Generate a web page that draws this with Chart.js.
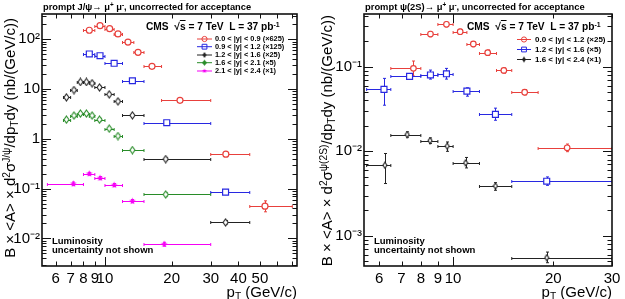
<!DOCTYPE html>
<html><head><meta charset="utf-8">
<script src="https://cdn.jsdelivr.net/npm/chart.js@4.4.0/dist/chart.umd.min.js"></script>
<style>
html,body{margin:0;padding:0;background:#fff;}
#wrap{position:relative;width:625px;height:299px;overflow:hidden;font-family:'Liberation Sans',Arial,Helvetica,sans-serif;color:#000;}
canvas{position:absolute;top:0;}
.t{position:absolute;white-space:nowrap;}
.b{font-weight:bold;}
sup,sub{font-size:68%;line-height:0;}
sup{vertical-align:0.45em;}
sub{vertical-align:-0.25em;}
.rot{transform:rotate(-90deg);transform-origin:0 0;text-align:right;width:270px;}
.ov{text-decoration:overline;}
</style></head>
<body><div id="wrap">
<canvas id="c1" width="312" height="299" style="left:0;width:312px;height:299px"></canvas>
<canvas id="c2" width="313" height="299" style="left:312px;width:313px;height:299px"></canvas>

<div class="t b" style="left:43px;top:0px;font-size:9.3px;line-height:14px">prompt J/ψ→ μ<sup>+</sup> μ<sup>-</sup>, uncorrected for acceptance</div>
<div class="t b" style="left:146px;top:20px;font-size:10.2px;line-height:14px">CMS &nbsp;√<span class="ov">s</span> = 7 TeV &nbsp;L = 37 pb<sup>-1</sup></div>
<div class="t b" style="left:215px;top:35px;font-size:7.4px;line-height:8px">0.0 &lt; |y| &lt; 0.9 (×625)</div>
<div class="t b" style="left:215px;top:42.7px;font-size:7.4px;line-height:8px">0.9 &lt; |y| &lt; 1.2 (×125)</div>
<div class="t b" style="left:215px;top:51px;font-size:7.4px;line-height:8px">1.2 &lt; |y| &lt; 1.6 (×25)</div>
<div class="t b" style="left:215px;top:58.7px;font-size:7.4px;line-height:8px">1.6 &lt; |y| &lt; 2.1 (×5)</div>
<div class="t b" style="left:215px;top:67px;font-size:7.4px;line-height:8px">2.1 &lt; |y| &lt; 2.4 (×1)</div>
<div class="t b" style="left:52px;top:235.5px;font-size:9.5px;line-height:10px">Luminosity</div>
<div class="t b" style="left:52px;top:245px;font-size:9.5px;line-height:10px">uncertainty not shown</div>
<div class="t rot" style="left:0px;top:288px;font-size:15px;line-height:19px">B × &lt;A&gt; × d<sup>2</sup>σ<sup>J/ψ</sup>/dp<sub>T</sub>dy (nb/(GeV/c))</div>
<div class="t" style="left:137px;top:283px;width:160px;text-align:right;font-size:15px;line-height:17px">p<sub>T</sub> (GeV/c)</div>

<div class="t b" style="left:365px;top:0px;font-size:9.4px;line-height:14px">prompt ψ(2S)→ μ<sup>+</sup> μ<sup>-</sup>, uncorrected for acceptance</div>
<div class="t b" style="left:467px;top:20px;font-size:10.2px;line-height:14px">CMS &nbsp;√<span class="ov">s</span> = 7 TeV &nbsp;L = 37 pb<sup>-1</sup></div>
<div class="t b" style="left:535px;top:35px;font-size:8px;line-height:9px">0.0 &lt; |y| &lt; 1.2 (×25)</div>
<div class="t b" style="left:535px;top:45px;font-size:8px;line-height:9px">1.2 &lt; |y| &lt; 1.6 (×5)</div>
<div class="t b" style="left:535px;top:55px;font-size:8px;line-height:9px">1.6 &lt; |y| &lt; 2.4 (×1)</div>
<div class="t b" style="left:374px;top:235.5px;font-size:9.5px;line-height:10px">Luminosity</div>
<div class="t b" style="left:374px;top:245px;font-size:9.5px;line-height:10px">uncertainty not shown</div>
<div class="t rot" style="left:317px;top:285px;font-size:15px;line-height:19px">B × &lt;A&gt; × d<sup>2</sup>σ<sup>ψ(2S)</sup>/dp<sub>T</sub>dy (nb/(GeV/c))</div>
<div class="t" style="left:452px;top:283px;width:160px;text-align:right;font-size:15px;line-height:17px">p<sub>T</sub> (GeV/c)</div>
</div>
<script>
// ---------------- Left panel: prompt J/psi ----------------
const jpsiXTicks = [6, 7, 8, 9, 10, 20, 30, 40, 50];
const jpsiYTicks = [0.01, 0.1, 1, 10, 100];
const jpsiYLabels = ['10⁻²', '10⁻¹', '1', '10', '10²'];

// 0.0<|y|<0.9 (x625)
const jA_pt   = [8.5, 9.5, 10.5, 11.45, 12.7, 14.1, 16.3, 21.8, 35.1, 52.7];
const jA_ptLo = [8, 9, 10, 11, 12, 13.5, 15, 18, 30, 45];
const jA_ptHi = [9, 10, 11, 12, 13.5, 15, 18, 30, 45, 70];
const jA_val  = [152, 188, 163, 128, 88, 54.8, 28.6, 5.94, 0.494, 0.0445];
const jA_lo   = [142, 176, 153, 120, 82.5, 51.2, 26.7, 5.5, 0.45, 0.0343];
const jA_hi   = [162, 200, 173, 136, 93.5, 58.4, 30.5, 6.4, 0.54, 0.057];
// 0.9<|y|<1.2 (x125)
const jB_pt   = [8.5, 9.5, 11.0, 13.3, 19.0, 35.0];
const jB_ptLo = [8, 9, 10, 12, 15, 30];
const jB_ptHi = [9, 10, 12, 15, 30, 45];
const jB_val  = [50.7, 46.8, 33.0, 14.7, 2.11, 0.0853];
const jB_lo   = [47.5, 43.8, 31.0, 13.8, 1.97, 0.076];
const jB_hi   = [54, 49.8, 35.0, 15.6, 2.25, 0.095];
// 1.2<|y|<1.6 (x25)
const jC_pt   = [6.7, 7.25, 7.75, 8.25, 8.75, 9.45, 10.45, 11.45, 13.3, 18.8, 35.0];
const jC_ptLo = [6.5, 7, 7.5, 8, 8.5, 9, 10, 11, 12, 15, 30];
const jC_ptHi = [7, 7.5, 8, 8.5, 9, 10, 11, 12, 15, 30, 45];
const jC_val  = [6.82, 9.57, 13.9, 13.9, 13.1, 10.8, 7.83, 5.68, 2.97, 0.393, 0.021];
const jC_lo   = [6.4, 9.0, 13.1, 13.1, 12.3, 10.2, 7.4, 5.35, 2.8, 0.37, 0.0195];
const jC_hi   = [7.25, 10.2, 14.7, 14.7, 13.9, 11.4, 8.3, 6.0, 3.15, 0.417, 0.0228];
// 1.6<|y|<2.1 (x5)
const jD_pt   = [6.7, 7.25, 7.75, 8.25, 8.75, 9.45, 10.45, 11.45, 13.3, 18.8];
const jD_ptLo = [6.5, 7, 7.5, 8, 8.5, 9, 10, 11, 12, 15];
const jD_ptHi = [7, 7.5, 8, 8.5, 9, 10, 11, 12, 15, 30];
const jD_val  = [2.44, 2.94, 3.23, 3.23, 2.94, 2.44, 1.61, 1.14, 0.596, 0.0766];
const jD_lo   = [2.29, 2.76, 3.04, 3.04, 2.76, 2.29, 1.51, 1.07, 0.56, 0.071];
const jD_hi   = [2.59, 3.12, 3.42, 3.42, 3.12, 2.59, 1.71, 1.21, 0.632, 0.0822];
// 2.1<|y|<2.4 (x1)
const jE_pt   = [7.2, 8.5, 9.5, 11.0, 13.3, 18.5];
const jE_ptLo = [5.5, 8, 9, 10, 12, 15];
const jE_ptHi = [8, 9, 10, 12, 15, 30];
const jE_val  = [0.125, 0.199, 0.163, 0.118, 0.0561, 0.00766];
const jE_lo   = [0.115, 0.186, 0.152, 0.110, 0.0520, 0.0070];
const jE_hi   = [0.136, 0.213, 0.175, 0.127, 0.0605, 0.0084];

// ---------------- Right panel: prompt psi(2S) ----------------
const psiXTicks = [6, 7, 8, 9, 10, 20, 30];
const psiYTicks = [0.001, 0.01, 0.1];
const psiYLabels = ['10⁻³', '10⁻²', '10⁻¹'];

// 0.0<|y|<1.2 (x25)
const pA_pt   = [7.6, 8.55, 9.55, 10.5, 11.5, 12.7, 14.2, 16.4, 22.0];
const pA_ptLo = [6.5, 8, 9, 10, 11, 12, 13.5, 15, 18];
const pA_ptHi = [8, 9, 10, 11, 12, 13.5, 15, 18, 30];
const pA_val  = [0.0958, 0.244, 0.318, 0.26, 0.186, 0.147, 0.0906, 0.050, 0.011];
const pA_lo   = [0.0776, 0.227, 0.297, 0.243, 0.173, 0.137, 0.084, 0.0465, 0.0099];
const pA_hi   = [0.117, 0.262, 0.340, 0.278, 0.199, 0.158, 0.097, 0.0536, 0.0122];
// 1.2<|y|<1.6 (x5)
const pB_pt   = [6.2, 7.4, 8.55, 9.55, 11.0, 13.4, 19.1];
const pB_ptLo = [5.5, 6.5, 8, 9, 10, 12, 15];
const pB_ptHi = [6.5, 8, 9, 10, 12, 15, 30];
const pB_val  = [0.054, 0.077, 0.080, 0.0826, 0.0515, 0.0273, 0.00443];
const pB_lo   = [0.0351, 0.072, 0.0715, 0.0715, 0.0449, 0.0233, 0.00396];
const pB_hi   = [0.0729, 0.083, 0.0914, 0.0957, 0.0564, 0.0324, 0.00498];
// 1.6<|y|<2.4 (x1)
const pC_pt   = [6.24, 7.28, 8.53, 9.6, 10.9, 13.4, 19.1];
const pC_ptLo = [5.5, 6.5, 8, 9, 10, 12, 15];
const pC_ptHi = [6.5, 8, 9, 10, 12, 15, 30];
const pC_val  = [0.00684, 0.0158, 0.0134, 0.0115, 0.0073, 0.00389, 0.000552];
const pC_lo   = [0.00416, 0.0147, 0.0124, 0.0100, 0.00636, 0.00346, 0.000481];
const pC_hi   = [0.00942, 0.0170, 0.0144, 0.0129, 0.00846, 0.00426, 0.000643];

// ---------------- styles ----------------
const RED = 'rgb(232,64,60)', BLUE = 'rgb(40,40,225)', BLACK = '#222', GREEN = 'rgb(40,140,40)', MAG = 'rgb(245,0,245)';

function diamond(color, w, h, filled) {
  const c = document.createElement('canvas');
  c.width = w + 2; c.height = h + 2;
  const g = c.getContext('2d');
  g.beginPath();
  g.moveTo(c.width / 2, 1); g.lineTo(c.width - 1, c.height / 2);
  g.lineTo(c.width / 2, c.height - 1); g.lineTo(1, c.height / 2); g.closePath();
  if (filled) { g.fillStyle = color; g.fill(); }
  else { g.fillStyle = '#fff'; g.fill(); g.strokeStyle = color; g.lineWidth = 1.1; g.stroke(); }
  return c;
}
function star(color, R, r) {
  const s = Math.ceil(R * 2) + 2;
  const c = document.createElement('canvas');
  c.width = s; c.height = s;
  const g = c.getContext('2d');
  g.beginPath();
  for (let k = 0; k < 10; k++) {
    const rad = k % 2 ? r : R;
    const a = -Math.PI / 2 + k * Math.PI / 5;
    const px = s / 2 + rad * Math.cos(a), py = s / 2 + rad * Math.sin(a);
    k ? g.lineTo(px, py) : g.moveTo(px, py);
  }
  g.closePath(); g.fillStyle = color; g.fill();
  return c;
}

function pts(pt, lo, hi, val, vlo, vhi) {
  return pt.map((x, i) => ({ x: x, y: val[i], xlo: lo[i], xhi: hi[i], ylo: vlo[i], yhi: vhi[i] }));
}
function ds(data, color, style, radius) {
  return { data, borderColor: color, backgroundColor: '#fff', pointStyle: style, pointRadius: radius,
           pointBorderWidth: 1.2, showLine: false };
}

const errorBars = {
  id: 'errorBars',
  beforeDatasetsDraw(chart) {
    const { ctx, chartArea: a, scales: { x, y } } = chart;
    ctx.save();
    ctx.beginPath(); ctx.rect(a.left, a.top, a.width, a.height); ctx.clip();
    chart.data.datasets.forEach(d => {
      ctx.strokeStyle = d.borderColor; ctx.lineWidth = 1;
      d.data.forEach(p => {
        const px = Math.round(x.getPixelForValue(p.x)) + 0.5;
        const py = Math.round(y.getPixelForValue(p.y)) + 0.5;
        const x1 = x.getPixelForValue(p.xlo), x2 = x.getPixelForValue(p.xhi);
        const y1 = y.getPixelForValue(p.ylo), y2 = y.getPixelForValue(p.yhi);
        const c = 1.5;
        ctx.beginPath();
        ctx.moveTo(x1, py); ctx.lineTo(x2, py);
        ctx.moveTo(x1, py - c); ctx.lineTo(x1, py + c);
        ctx.moveTo(x2, py - c); ctx.lineTo(x2, py + c);
        ctx.moveTo(px, y1); ctx.lineTo(px, y2);
        ctx.moveTo(px - c, y1); ctx.lineTo(px + c, y1);
        ctx.moveTo(px - c, y2); ctx.lineTo(px + c, y2);
        ctx.stroke();
      });
    });
    ctx.restore();
  }
};

const frame = {
  id: 'frame',
  afterDatasetsDraw(chart) {
    const { ctx, chartArea: a, scales: { x, y } } = chart;
    ctx.save();
    ctx.strokeStyle = '#111'; ctx.lineWidth = 1;
    ctx.beginPath();
    for (let d = Math.floor(Math.log10(y.min)); d <= Math.ceil(Math.log10(y.max)); d++) {
      for (let m = 1; m <= 9; m++) {
        const v = m * Math.pow(10, d);
        if (v < y.min || v > y.max) continue;
        const p = Math.round(y.getPixelForValue(v)) + 0.5, L = m === 1 ? 9 : 4.5;
        ctx.moveTo(a.left, p); ctx.lineTo(a.left + L, p);
        ctx.moveTo(a.right, p); ctx.lineTo(a.right - L, p);
      }
    }
    for (let d = Math.floor(Math.log10(x.min)); d <= Math.ceil(Math.log10(x.max)); d++) {
      for (let m = 1; m <= 9; m++) {
        const v = m * Math.pow(10, d);
        if (v < x.min || v > x.max) continue;
        const p = Math.round(x.getPixelForValue(v)) + 0.5, L = m === 1 ? 9 : 4.5;
        ctx.moveTo(p, a.bottom); ctx.lineTo(p, a.bottom - L);
        ctx.moveTo(p, a.top); ctx.lineTo(p, a.top + L);
      }
    }
    ctx.stroke();
    ctx.lineWidth = 1.6;
    ctx.strokeRect(a.left, a.top, a.width, a.height);
    ctx.restore();
  }
};

function swatches(items, x1, x2) {
  return {
    id: 'swatches',
    afterDraw(chart) {
      const ctx = chart.ctx;
      ctx.save();
      items.forEach(it => {
        ctx.strokeStyle = it.color; ctx.fillStyle = it.fill || 'rgba(0,0,0,0)'; ctx.lineWidth = 1;
        ctx.beginPath(); ctx.moveTo(x1, it.y); ctx.lineTo(x2, it.y); ctx.stroke();
        Chart.helpers.drawPoint(ctx, { pointStyle: it.style, radius: it.r, rotation: 0, borderWidth: 1.1 }, (x1 + x2) / 2, it.y);
      });
      ctx.restore();
    }
  };
}

function makeChart(id, o) {
  return new Chart(document.getElementById(id), {
    type: 'scatter',
    data: { datasets: o.datasets },
    options: {
      responsive: false, animation: false, events: [],
      layout: { padding: { left: 0, right: o.padRight, top: 14, bottom: 0 } },
      plugins: { legend: { display: false }, tooltip: { enabled: false } },
      scales: {
        x: {
          type: 'logarithmic', min: o.xMin, max: o.xMax,
          afterBuildTicks: s => { s.ticks = o.xTicks.map(v => ({ value: v })); },
          afterFit: s => { s.height = 33; },
          ticks: { autoSkip: false, maxRotation: 0, padding: 4, color: '#000',
                   font: { family: "'Liberation Sans', Arial", size: 15 },
                   callback: v => String(v) },
          grid: { display: false, drawTicks: false }, border: { display: false }
        },
        y: {
          type: 'logarithmic', min: o.yMin, max: o.yMax,
          afterBuildTicks: s => { s.ticks = o.yTicks.map(v => ({ value: v })); },
          afterFit: s => { s.width = o.yWidth; },
          ticks: { autoSkip: false, padding: 2, color: '#000',
                   font: { family: "'Liberation Sans', Arial", size: 15 },
                   callback: v => o.yLabels[o.yTicks.indexOf(v)] },
          grid: { display: false, drawTicks: false }, border: { display: false }
        }
      }
    },
    plugins: [errorBars, frame, swatches(o.legend, o.legX1, o.legX2)]
  });
}

const dGreen = diamond(GREEN, 5, 7, false), dBlack = diamond(BLACK, 5, 7, false);
const dBlack2 = diamond(BLACK, 4, 6, false);
const sMag = star(MAG, 3.5, 1.5);

makeChart('c1', {
  xMin: 5.2, xMax: 73.5, yMin: 0.0028, yMax: 322, yWidth: 42, padRight: 15,
  xTicks: jpsiXTicks, yTicks: jpsiYTicks, yLabels: jpsiYLabels,
  datasets: [
    ds(pts(jA_pt, jA_ptLo, jA_ptHi, jA_val, jA_lo, jA_hi), RED, 'circle', 3),
    ds(pts(jB_pt, jB_ptLo, jB_ptHi, jB_val, jB_lo, jB_hi), BLUE, 'rect', 4.2),
    ds(pts(jC_pt, jC_ptLo, jC_ptHi, jC_val, jC_lo, jC_hi), BLACK, dBlack, 3),
    ds(pts(jD_pt, jD_ptLo, jD_ptHi, jD_val, jD_lo, jD_hi), GREEN, dGreen, 3),
    ds(pts(jE_pt, jE_ptLo, jE_ptHi, jE_val, jE_lo, jE_hi), MAG, sMag, 3)
  ],
  legX1: 197, legX2: 212,
  legend: [
    { y: 39, color: RED, style: 'circle', r: 2.6 },
    { y: 46.7, color: BLUE, style: 'rect', r: 3.4 },
    { y: 55, color: BLACK, style: diamond(BLACK, 4, 6, true), r: 3 },
    { y: 62.7, color: GREEN, style: diamond(GREEN, 5, 6, true), r: 3 },
    { y: 71, color: MAG, style: star(MAG, 2.6, 1.1), r: 3 }
  ]
});

makeChart('c2', {
  xMin: 5.4, xMax: 30, yMin: 0.00044, yMax: 0.421, yWidth: 52, padRight: 13,
  xTicks: psiXTicks, yTicks: psiYTicks, yLabels: psiYLabels,
  datasets: [
    ds(pts(pA_pt, pA_ptLo, pA_ptHi, pA_val, pA_lo, pA_hi), RED, 'circle', 2.8),
    ds(pts(pB_pt, pB_ptLo, pB_ptHi, pB_val, pB_lo, pB_hi), BLUE, 'rect', 4.2),
    ds(pts(pC_pt, pC_ptLo, pC_ptHi, pC_val, pC_lo, pC_hi), BLACK, dBlack2, 3)
  ],
  legX1: 205, legX2: 219,
  legend: [
    { y: 39.5, color: RED, style: 'circle', r: 2.6 },
    { y: 49.5, color: BLUE, style: 'rect', r: 3.4 },
    { y: 59.5, color: BLACK, style: diamond(BLACK, 4, 6, true), r: 3 }
  ]
});
</script>
</body></html>
